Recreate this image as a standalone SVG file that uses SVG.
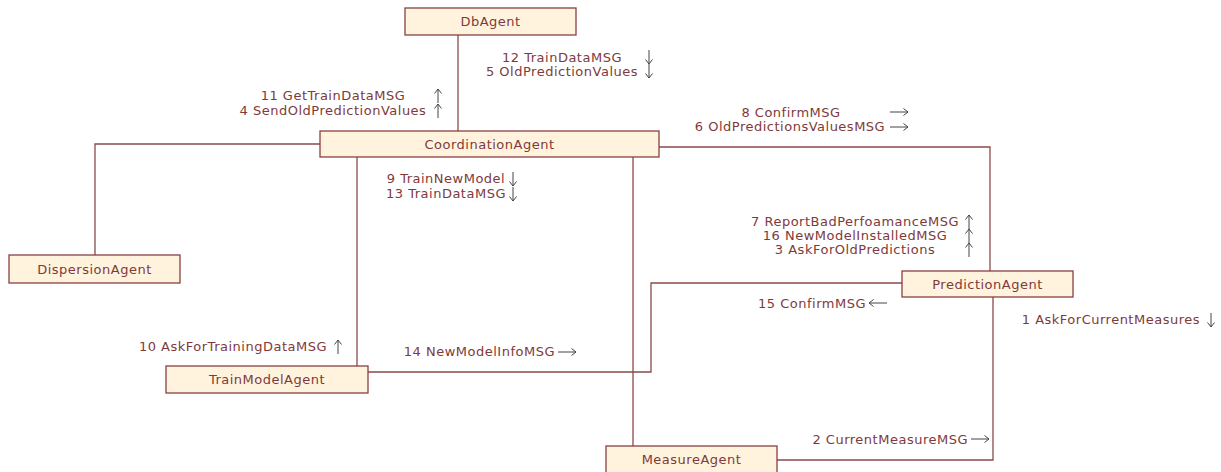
<svg xmlns="http://www.w3.org/2000/svg" width="1221" height="472" viewBox="0 0 1221 472">
  <style>
    .box { fill: #fff3de; stroke: #8a4040; stroke-width: 1.3; }
    .name { font-family: "DejaVu Sans", Verdana, sans-serif; font-size: 13px; letter-spacing: 0.5px; fill: #7e3a3a; text-anchor: middle; }
    .wire { fill: none; stroke: #8a4a4a; stroke-width: 1.3; }
    .msg { font-family: "DejaVu Sans", Verdana, sans-serif; font-size: 13px; letter-spacing: 0.5px; fill: #7e3a3a; }
    .mid { text-anchor: middle; }
    .end { text-anchor: end; }
    .dir { fill: none; stroke: #444; stroke-width: 1; }
  </style>
  <defs>
    <!-- small direction arrows drawn beside message labels -->
    <path id="up" class="dir" d="M0,14 V0 M-3.5,4.5 L0,0 L3.5,4.5"/>
    <path id="down" class="dir" d="M0,0 V14 M-3.5,9.5 L0,14 L3.5,9.5"/>
    <path id="right" class="dir" d="M0,0 H18 M13.5,-3.5 L18,0 L13.5,3.5"/>
    <path id="left" class="dir" d="M18,0 H0 M4.5,-3.5 L0,0 L4.5,3.5"/>
  </defs>
  <rect width="1221" height="472" fill="#ffffff"/>

  <g id="connectors">
    <path class="wire" d="M458,35 V131"/>
    <path class="wire" d="M320,144 H95 V255"/>
    <path class="wire" d="M659,147 H990 V271"/>
    <path class="wire" d="M357,157 V366"/>
    <path class="wire" d="M633,157 V446"/>
    <path class="wire" d="M368,372 H651 V283 H902"/>
    <path class="wire" d="M777,460 H993 V297"/>
  </g>

  <g id="DbAgent">
    <rect class="box" x="405" y="8" width="171" height="27"/>
    <text class="name" x="490.5" y="26">DbAgent</text>
  </g>
  <g id="CoordinationAgent">
    <rect class="box" x="320" y="131" width="339" height="26"/>
    <text class="name" x="489.5" y="148.5">CoordinationAgent</text>
  </g>
  <g id="DispersionAgent">
    <rect class="box" x="9" y="255" width="171" height="28"/>
    <text class="name" x="94.5" y="273.5">DispersionAgent</text>
  </g>
  <g id="PredictionAgent">
    <rect class="box" x="902" y="271" width="171" height="26"/>
    <text class="name" x="987.5" y="288.5">PredictionAgent</text>
  </g>
  <g id="TrainModelAgent">
    <rect class="box" x="166" y="366" width="202" height="27"/>
    <text class="name" x="267" y="384">TrainModelAgent</text>
  </g>
  <g id="MeasureAgent">
    <rect class="box" x="606" y="446" width="171" height="28"/>
    <text class="name" x="691.5" y="463.5">MeasureAgent</text>
  </g>

  <g id="messages">
    <text class="msg mid" x="562" y="62">12 TrainDataMSG</text>
    <text class="msg mid" x="562" y="76">5 OldPredictionValues</text>
    <use href="#down" x="649" y="50"/>
    <use href="#down" x="649" y="64"/>

    <text class="msg mid" x="333" y="100">11 GetTrainDataMSG</text>
    <text class="msg mid" x="333" y="115">4 SendOldPredictionValues</text>
    <use href="#up" x="438" y="89"/>
    <use href="#up" x="438" y="104"/>

    <text class="msg mid" x="791" y="117">8 ConfirmMSG</text>
    <text class="msg mid" x="790" y="131">6 OldPredictionsValuesMSG</text>
    <use href="#right" x="890" y="112"/>
    <use href="#right" x="890" y="127"/>

    <text class="msg mid" x="446" y="183">9 TrainNewModel</text>
    <text class="msg mid" x="446" y="198">13 TrainDataMSG</text>
    <use href="#down" x="513" y="172"/>
    <use href="#down" x="513" y="187"/>

    <text class="msg mid" x="855" y="226">7 ReportBadPerfoamanceMSG</text>
    <text class="msg mid" x="855" y="240">16 NewModelInstalledMSG</text>
    <text class="msg mid" x="855" y="254">3 AskForOldPredictions</text>
    <use href="#up" x="969" y="215"/>
    <use href="#up" x="969" y="229"/>
    <use href="#up" x="969" y="243"/>

    <text class="msg end" x="866" y="308">15 ConfirmMSG</text>
    <use href="#left" x="869" y="303"/>

    <text class="msg end" x="1200" y="324">1 AskForCurrentMeasures</text>
    <use href="#down" x="1211" y="313"/>

    <text class="msg end" x="327" y="351">10 AskForTrainingDataMSG</text>
    <use href="#up" x="338" y="340"/>

    <text class="msg end" x="555" y="356">14 NewModelInfoMSG</text>
    <use href="#right" x="558" y="352"/>

    <text class="msg end" x="968" y="444">2 CurrentMeasureMSG</text>
    <use href="#right" x="971" y="439"/>
  </g>
</svg>
